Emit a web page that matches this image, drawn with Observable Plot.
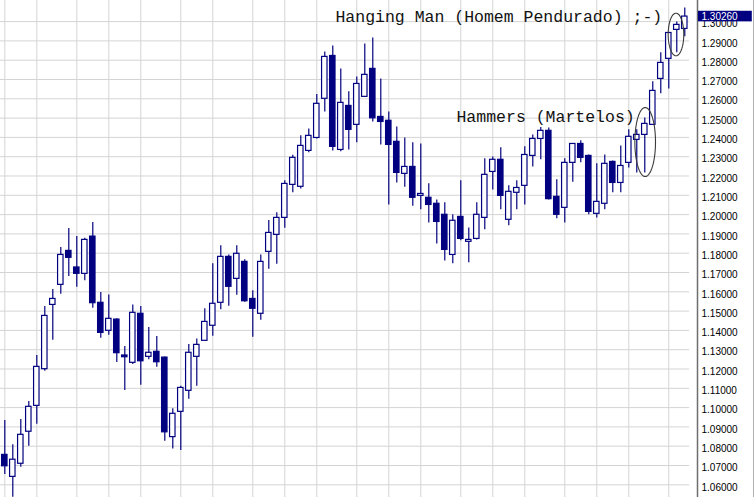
<!DOCTYPE html>
<html>
<head>
<meta charset="utf-8">
<script src="https://cdn.jsdelivr.net/npm/d3@7"></script>
<script src="https://cdn.jsdelivr.net/npm/@observablehq/plot@0.6"></script>
<style>
  html, body { margin: 0; padding: 0; background: #fff; }
  #chart svg { display: block; }
</style>
</head>
<body>
<div id="chart"></div>
<script>
// OHLC values (one candle per session)
const opens = [1.0755,1.0641,1.0709,1.0875,1.1009,1.1199,1.1532,1.1636,1.1812,1.1726,
  1.1693,1.1886,1.1543,1.1398,1.1456,1.1270,1.1232,1.1486,1.1263,1.1289,
  1.1259,1.0847,1.0978,1.1087,1.1263,1.1346,1.1424,1.1543,1.1781,1.1667,
  1.1755,1.1563,1.1486,1.1807,1.1895,1.1983,1.2154,1.2144,1.2330,1.2397,
  1.2600,1.2822,1.2335,1.2563,1.2465,1.2610,1.2755,1.2506,1.2486,1.2377,
  1.2211,1.2247,1.2097,1.2087,1.2056,1.1999,1.1791,1.1988,1.1859,1.1874,
  1.1983,1.2221,1.2284,1.1973,1.2113,1.2149,1.2304,1.2392,1.2434,1.2092,
  1.2035,1.2268,1.2366,1.2304,1.2004,1.2056,1.2273,1.2164,1.2268,1.2387,
  1.2413,1.2465,1.2703,1.2807,1.2957,1.2962];
const highs = [1.0933,1.0807,1.0938,1.1031,1.1270,1.1524,1.1612,1.1829,1.1928,1.1886,
  1.1877,1.1959,1.1596,1.1584,1.1460,1.1316,1.1532,1.1524,1.1415,1.1368,
  1.1262,1.0994,1.1111,1.1327,1.1356,1.1512,1.1745,1.1838,1.1791,1.1838,
  1.1766,1.1605,1.1791,1.1969,1.2009,1.2175,1.2307,1.2408,1.2444,1.2622,
  1.2843,1.2874,1.2755,1.2637,1.2713,1.2884,1.2915,1.2703,1.2532,1.2454,
  1.2397,1.2372,1.2366,1.2160,1.2076,1.2061,1.1999,1.2175,1.1931,1.2061,
  1.2289,1.2299,1.2346,1.2149,1.2175,1.2351,1.2413,1.2451,1.2449,1.2180,
  1.2289,1.2366,1.2382,1.2309,1.2263,1.2309,1.2278,1.2356,1.2439,1.2439,
  1.2501,1.2688,1.2838,1.2941,1.2998,1.3071];
const lows = [1.0653,1.0536,1.0691,1.0800,1.0914,1.1188,1.1349,1.1587,1.1679,1.1624,
  1.1657,1.1515,1.1359,1.1375,1.1234,1.1088,1.1223,1.1116,1.1248,1.1209,
  1.0826,1.0786,1.0778,1.1043,1.1111,1.1346,1.1370,1.1507,1.1525,1.1582,
  1.1546,1.1365,1.1453,1.1717,1.1743,1.1929,1.2113,1.2133,1.2320,1.2392,
  1.2532,1.2330,1.2325,1.2335,1.2372,1.2610,1.2480,1.2361,1.2050,1.2164,
  1.2142,1.2043,1.2025,1.1957,1.1848,1.1760,1.1745,1.1864,1.1750,1.1869,
  1.1921,1.2128,1.2025,1.1942,1.2025,1.2050,1.2247,1.2284,1.2076,1.1978,
  1.1957,1.2167,1.2268,1.1999,1.1983,1.2025,1.2113,1.2113,1.2242,1.2215,
  1.2215,1.2465,1.2626,1.2651,1.2838,1.2921];
const closes = [1.0696,1.0730,1.0859,1.1004,1.1211,1.1475,1.1563,1.1791,1.1776,1.1693,
  1.1869,1.1541,1.1387,1.1460,1.1282,1.1261,1.1491,1.1240,1.1284,1.1235,
  1.0872,1.0968,1.1102,1.1284,1.1325,1.1444,1.1538,1.1781,1.1626,1.1797,
  1.1551,1.1512,1.1755,1.1905,1.1983,1.2159,1.2294,1.2356,1.2408,1.2574,
  1.2817,1.2351,1.2579,1.2439,1.2677,1.2724,1.2499,1.2480,1.2361,1.2216,
  1.2247,1.2087,1.2107,1.2050,1.1962,1.1817,1.1968,1.1874,1.1869,1.1999,
  1.2206,1.2284,1.2097,1.2118,1.2138,1.2309,1.2392,1.2434,1.2080,1.1999,
  1.2268,1.2366,1.2294,1.2014,1.2066,1.2263,1.2164,1.2252,1.2403,1.2413,
  1.2470,1.2641,1.2786,1.2941,1.2983,1.3026];

// price tick labels (right axis) and session indexes of the vertical grid lines
const yTicks = d3.range(106, 131).map(v => v / 100);
const gridIdx = [0,4,9,13,17,22,26,31,35,39,44,48,52,57,61,65,70,74,78,83];

// annotations
const annotTexts = ["Hanging Man (Homem Pendurado) ;-)", "Hammers (Martelos)"];
const annotX = [41.33, 56.46];
const annotY = [1.30265, 1.25063];
// ellipses around the patterns: center index, center price, radius (index units), radius (price)
const ellipseCx = [83.9, 80.05];
const ellipseCy = [1.29332, 1.23761];
const ellipseRx = [0.975, 1.29];
const ellipseRy = [0.01104, 0.01788];

const navy = "#000080";
const grid = "#d4d4d4";

const candles = opens.map((o, i) => ({i, o, h: highs[i], l: lows[i], c: closes[i]}));
const lastI = closes.length - 1;
const xDomain = [-0.5375, 86.59];
const yDomain = [1.05342, 1.31093];

const ellipsePts = [];
ellipseCx.forEach((cx, e) => {
  for (let t = 0; t <= 72; t++) {
    const a = t / 72 * 2 * Math.PI;
    ellipsePts.push({e, x: cx + ellipseRx[e] * Math.cos(a), y: ellipseCy[e] + ellipseRy[e] * Math.sin(a)});
  }
});

const chart = Plot.plot({
  width: 755,
  height: 497,
  marginLeft: 0,
  marginRight: 58,
  marginTop: 0,
  marginBottom: 0,
  x: {type: "linear", domain: xDomain, axis: null},
  y: {type: "linear", domain: yDomain, axis: null},
  style: {background: "white", fontFamily: "'Liberation Sans', Arial, sans-serif", fontSize: "10px"},
  marks: [
    Plot.ruleX(gridIdx, {stroke: grid, strokeWidth: 1}),
    Plot.ruleY(yTicks, {x1: xDomain[0], x2: lastI + 0.6, stroke: grid, strokeWidth: 1}),
    // wicks
    Plot.ruleX(candles, {x: "i", y1: "l", y2: "h", stroke: navy, strokeWidth: 1.2}),
    // bodies
    Plot.rect(candles.filter(d => d.c >= d.o), {x1: d => d.i - 0.34, x2: d => d.i + 0.34, y1: "o", y2: "c", fill: "white", stroke: navy, strokeWidth: 1.2}),
    Plot.rect(candles.filter(d => d.c < d.o), {x1: d => d.i - 0.34, x2: d => d.i + 0.34, y1: "o", y2: "c", fill: navy, stroke: navy, strokeWidth: 1.2}),
    // annotation ellipses and texts
    Plot.line(ellipsePts, {x: "x", y: "y", z: "e", stroke: "#3a3a3a", strokeWidth: 1.1}),
    Plot.text(annotTexts, {x: (d, i) => annotX[i], y: (d, i) => annotY[i], text: d => d, textAnchor: "start",
      fontFamily: "'Liberation Mono', 'Courier New', monospace", fontSize: 16.5, fill: "#111"}),
    // right axis
    Plot.ruleX([xDomain[1]], {stroke: "#6e6e6e", strokeWidth: 1.5}),
    Plot.ruleX([xDomain[1] + 7.0], {stroke: "#b0b0b0", strokeWidth: 1}),
    Plot.text(yTicks, {y: d => d, frameAnchor: "right", dx: 4, dy: 2.5, textAnchor: "start", text: d => d.toFixed(5), fill: "#000", fontSize: 10}),
    // last price marker
    Plot.rect([closes[lastI]], {x1: xDomain[1] + 0.12, x2: xDomain[1] + 6.85, y1: d => d - 0.00275, y2: d => d + 0.00275, fill: navy}),
    Plot.text([closes[lastI]], {y: d => d, frameAnchor: "right", dx: 4, dy: 0.7, textAnchor: "start", text: d => d.toFixed(5), fill: "white", fontSize: 10})
  ]
});
document.getElementById("chart").appendChild(chart);
</script>
</body>
</html>
